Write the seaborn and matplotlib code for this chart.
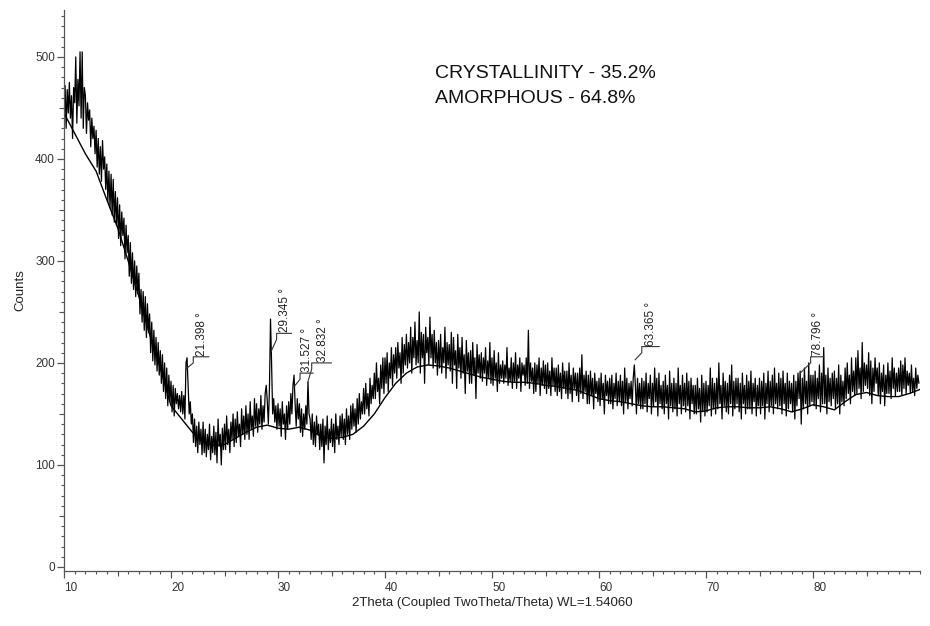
import numpy as np
import pandas as pd
import seaborn as sns
import matplotlib.pyplot as plt
from matplotlib.ticker import MultipleLocator, FixedLocator

# XRD scan, counts every 0.1 deg (one row per degree, 10.0 .. 89.9)
counts = [
    450, 472, 430, 468, 445, 475, 440, 462, 420, 470,   # 10
    455, 500, 435, 478, 452, 505, 440, 505, 430, 470,   # 11
    462, 425, 455, 438, 448, 412, 440, 420, 432, 405,   # 12
    428, 392, 420, 385, 412, 378, 418, 390, 402, 370,   # 13
    395, 358, 388, 352, 385, 345, 380, 338, 368, 335,   # 14
    362, 322, 355, 315, 348, 325, 342, 302, 335, 308,   # 15
    325, 285, 318, 278, 308, 272, 300, 265, 295, 268,   # 16
    288, 248, 272, 240, 270, 232, 265, 225, 258, 230,   # 17
    248, 210, 240, 202, 232, 198, 225, 192, 220, 188,   # 18
    212, 180, 208, 172, 200, 165, 195, 158, 188, 162,   # 19
    182, 152, 178, 148, 175, 160, 170, 155, 168, 152,   # 20
    172, 150, 168, 145, 200, 205, 178, 150, 162, 140,   # 21
    150, 122, 145, 118, 138, 112, 142, 120, 135, 110,   # 22
    142, 112, 135, 108, 130, 115, 140, 105, 128, 112,   # 23
    138, 110, 132, 102, 145, 118, 130, 100, 136, 115,   # 24
    140, 115, 148, 120, 135, 112, 142, 125, 150, 118,   # 25
    145, 122, 152, 128, 140, 118, 155, 130, 148, 125,   # 26
    158, 130, 150, 125, 162, 135, 148, 128, 165, 138,   # 27
    160, 132, 155, 140, 168, 135, 158, 142, 170, 178,   # 28
    162, 140, 175, 243, 200, 150, 165, 142, 158, 135,   # 29
    160, 138, 155, 128, 162, 140, 150, 125, 158, 135,   # 30
    162, 140, 170, 150, 178, 188, 160, 138, 165, 145,   # 31
    160, 132, 155, 128, 150, 135, 158, 140, 182, 150,   # 32
    145, 125, 150, 120, 142, 118, 148, 130, 140, 115,   # 33
    140, 118, 145, 102, 138, 120, 148, 115, 135, 122,   # 34
    145, 118, 140, 112, 150, 125, 138, 120, 148, 128,   # 35
    150, 125, 145, 120, 155, 130, 148, 125, 158, 135,   # 36
    160, 138, 155, 132, 165, 140, 170, 145, 162, 150,   # 37
    175, 150, 180, 155, 170, 148, 185, 160, 178, 165,   # 38
    190, 165, 200, 172, 185, 160, 198, 175, 205, 170,   # 39
    205, 180, 210, 172, 200, 185, 215, 178, 208, 190,   # 40
    215, 185, 220, 195, 210, 180, 225, 190, 218, 198,   # 41
    228, 195, 220, 200, 235, 190, 225, 205, 240, 198,   # 42
    222, 200, 250, 190, 230, 205, 228, 180, 235, 210,   # 43
    225, 198, 245, 205, 228, 195, 232, 200, 220, 188,   # 44
    222, 195, 228, 190, 215, 200, 235, 185, 220, 198,   # 45
    218, 192, 230, 180, 225, 198, 212, 175, 228, 195,   # 46
    215, 185, 225, 190, 208, 170, 222, 192, 210, 180,   # 47
    212, 180, 220, 188, 205, 165, 218, 190, 208, 185,   # 48
    210, 182, 205, 190, 215, 178, 202, 185, 220, 180,   # 49
    205, 178, 212, 185, 200, 172, 210, 180, 198, 185,   # 50
    202, 180, 198, 185, 215, 178, 195, 182, 205, 175,   # 51
    200, 182, 210, 175, 198, 185, 205, 172, 200, 188,   # 52
    198, 178, 205, 180, 232, 175, 200, 182, 195, 170,   # 53
    200, 172, 198, 180, 205, 168, 195, 178, 202, 175,   # 54
    198, 170, 200, 175, 192, 168, 205, 178, 195, 172,   # 55
    195, 168, 198, 172, 190, 165, 200, 175, 192, 170,   # 56
    192, 165, 200, 170, 188, 162, 195, 175, 190, 168,   # 57
    190, 162, 195, 170, 208, 165, 188, 172, 192, 160,   # 58
    188, 160, 192, 168, 185, 155, 190, 170, 182, 162,   # 59
    185, 158, 190, 165, 180, 150, 188, 168, 182, 160,   # 60
    185, 160, 188, 155, 180, 165, 190, 158, 182, 162,   # 61
    188, 158, 182, 150, 195, 162, 185, 155, 180, 165,   # 62
    182, 158, 185, 198, 178, 150, 185, 160, 180, 155,   # 63
    185, 155, 182, 160, 190, 152, 180, 165, 188, 150,   # 64
    180, 158, 195, 162, 185, 148, 190, 160, 178, 155,   # 65
    182, 150, 188, 160, 178, 145, 192, 158, 180, 152,   # 66
    185, 155, 180, 148, 195, 160, 178, 150, 188, 158,   # 67
    180, 152, 190, 158, 182, 145, 185, 160, 178, 150,   # 68
    178, 150, 185, 155, 175, 142, 188, 152, 180, 148,   # 69
    182, 152, 178, 158, 195, 148, 185, 155, 180, 150,   # 70
    185, 155, 200, 160, 178, 145, 190, 158, 182, 152,   # 71
    180, 150, 188, 160, 198, 148, 182, 155, 185, 160,   # 72
    185, 152, 180, 145, 190, 160, 178, 150, 188, 155,   # 73
    182, 155, 192, 150, 180, 162, 185, 148, 178, 158,   # 74
    185, 150, 182, 158, 190, 145, 180, 160, 192, 152,   # 75
    182, 158, 188, 150, 195, 160, 180, 155, 190, 158,   # 76
    185, 150, 192, 160, 180, 148, 190, 155, 182, 160,   # 77
    180, 152, 188, 145, 182, 158, 190, 165, 192, 140,   # 78
    185, 155, 195, 160, 182, 150, 200, 158, 188, 162,   # 79
    188, 158, 192, 155, 185, 165, 198, 152, 190, 160,   # 80
    215, 160, 188, 150, 195, 162, 185, 158, 190, 165,   # 81
    192, 155, 185, 160, 198, 150, 188, 162, 182, 158,   # 82
    195, 165, 200, 170, 188, 160, 205, 172, 192, 168,   # 83
    205, 170, 212, 175, 195, 165, 220, 172, 200, 178,   # 84
    198, 175, 210, 168, 202, 160, 195, 172, 205, 180,   # 85
    195, 168, 200, 160, 190, 172, 198, 158, 188, 170,   # 86
    200, 170, 192, 165, 205, 175, 195, 168, 190, 172,   # 87
    195, 172, 202, 168, 198, 175, 205, 170, 192, 178,   # 88
    190, 170, 198, 172, 185, 168, 195, 175, 188, 180,   # 89
]
two_theta = np.round(10 + 0.1 * np.arange(len(counts)), 1)

# fitted amorphous background, one value per degree (10 .. 90)
bg_theta = list(range(10, 91))
bg_counts = [
    445, 425, 405, 388, 360, 333, 300, 265, 228, 195,
    158, 145, 132, 122, 119, 120, 126, 132, 137, 139,
    136, 135, 137, 134, 128, 126, 127, 130, 138, 150,
    166, 180, 190, 196, 198, 197, 195, 192, 189, 186,
    184, 182, 181, 181, 180, 178, 177, 175, 173, 169,
    165, 163, 162, 160, 158, 157, 157, 156, 155, 152,
    153, 156, 157, 157, 156, 156, 157, 155, 152, 155,
    159, 157, 154, 162, 169, 171, 168, 167, 167, 170,
    174,
]

# identified peaks
peak_pos = [21.398, 29.345, 31.527, 32.832, 63.365, 78.796]
peak_labels = ["21.398 °", "29.345 °", "31.527 °", "32.832 °", "63.365 °", "78.796 °"]
# leader geometry (start height, bar height, bar start/end)
leader_y = [194, 211, 177, 183, 203, 190]
bar_y = [206, 229, 190, 200, 216, 206]
bar_x0 = [22.08, 29.87, 32.06, 33.15, 64.0, 79.78]
bar_x1 = [23.55, 31.27, 33.3, 35.0, 65.64, 81.03]

sns.set_style("ticks")
plt.rcParams['font.family'] = ['Liberation Sans', 'DejaVu Sans']

df = pd.DataFrame({'two_theta': two_theta, 'counts': counts})
df_bg = pd.DataFrame({'two_theta': bg_theta, 'counts': bg_counts})

fig, ax = plt.subplots(figsize=(9.3, 6.26), dpi=100)
fig.subplots_adjust(left=64/930, right=920/930, bottom=1-571/626, top=1-10/626)

sns.lineplot(data=df, x='two_theta', y='counts', color='black', lw=0.9, ax=ax)
sns.lineplot(data=df_bg, x='two_theta', y='counts', color='black', lw=1.0, ax=ax)

# peak markers with bracket leaders
for xp, lab, yl, yb, x0, x1 in zip(peak_pos, peak_labels, leader_y, bar_y, bar_x0, bar_x1):
    ax.plot([xp, x0, x0, x1], [yl, yb - 6, yb, yb], color='#333333', lw=0.8)
    ax.text(x0 + 0.55 * (x1 - x0), yb + 1, lab, rotation=90, ha='center', va='bottom',
            fontsize=8.5, color='#222222')

ax.text(0.433, 0.879, "CRYSTALLINITY - 35.2%", transform=ax.transAxes, fontsize=14, color='#111111')
ax.text(0.433, 0.834, "AMORPHOUS - 64.8%", transform=ax.transAxes, fontsize=14, color='#111111')

ax.set_xlim(10, 90)
ax.set_ylim(-4, 546)
ax.xaxis.set_major_locator(MultipleLocator(10))
ax.xaxis.set_minor_locator(MultipleLocator(1))
ax.yaxis.set_major_locator(MultipleLocator(100))
ax.yaxis.set_minor_locator(MultipleLocator(10))
ax.set_xticks(range(10, 90, 10))

sns.despine(ax=ax)
for s in ['left', 'bottom']:
    ax.spines[s].set_color('#555555')
    ax.spines[s].set_linewidth(0.9)

ax.tick_params(which='major', length=5, width=0.9, color='#555555', labelsize=8.5, labelcolor='#333333')
ax.tick_params(which='minor', length=2.2, width=0.8, color='#555555')
ax.tick_params(axis='y', which='major', pad=1.5)
ax.tick_params(axis='x', which='major', pad=3)
for t in ax.get_xticklabels():
    t.set_ha('left')

# medium ticks at the halves
sec_x = ax.secondary_xaxis('bottom')
sec_x.xaxis.set_major_locator(FixedLocator(list(range(15, 90, 10))))
sec_x.tick_params(length=3.6, width=0.8, color='#555555', labelbottom=False)
sec_x.spines['bottom'].set_visible(False)
sec_y = ax.secondary_yaxis('left')
sec_y.yaxis.set_major_locator(FixedLocator(list(range(50, 550, 100))))
sec_y.tick_params(length=3.6, width=0.8, color='#555555', labelleft=False)
sec_y.spines['left'].set_visible(False)

ax.set_xlabel("2Theta (Coupled TwoTheta/Theta) WL=1.54060", fontsize=9.5, color='#222222')
ax.set_ylabel("Counts", fontsize=9.5, color='#222222')
ax.xaxis.set_label_coords(0.5, -0.046)
ax.yaxis.set_label_coords(-0.044, 0.5)

fig.savefig("out.png", dpi=100)
